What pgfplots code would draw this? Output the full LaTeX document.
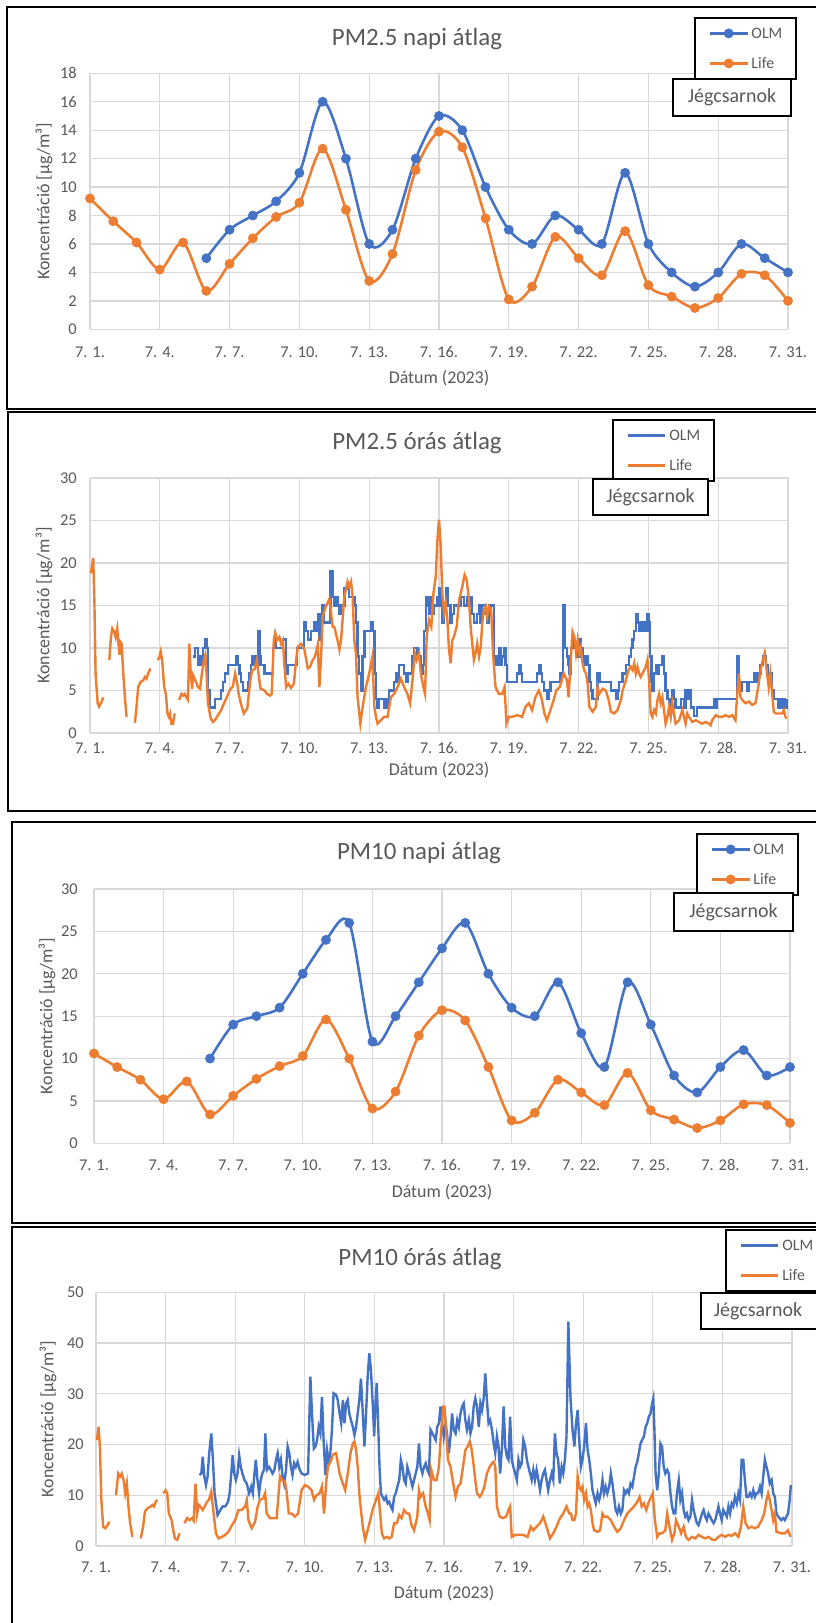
\documentclass[border=0pt]{standalone}
\usepackage{fontspec}
\setmainfont{Carlito}
\usepackage{pgfplots}
\pgfplotsset{compat=1.18}
\definecolor{olm}{HTML}{4472C4}
\definecolor{life}{HTML}{ED7D31}
\definecolor{grd}{HTML}{D9D9D9}
\definecolor{txt}{HTML}{595959}
\pgfplotsset{
  excel/.style={
    scale only axis,
    xmin=1, xmax=31, ymin=0,
    xtick={1,4,...,31},
    xticklabels={7. 1.,7. 4.,7. 7.,7. 10.,7. 13.,7. 16.,7. 19.,7. 22.,7. 25.,7. 28.,7. 31.},
    grid=major,
    major grid style={draw=grd, line width=1.3bp},
    axis line style={draw=none},
    major tick length=0pt,
    tick label style={font=\fontsize{16.5}{17}\selectfont, text=txt},
    /pgf/number format/assume math mode=true,
    xticklabel style={anchor=base},
    yticklabel style={anchor=east, inner sep=0pt},
    clip=false,
    unbounded coords=jump,
    legend cell align=left,
    legend style={draw=black, line width=1.8bp, fill=white, anchor=north west,
      font=\fontsize{16}{16}\selectfont, text=txt, inner xsep=14bp, inner ysep=10bp,
      row sep=19bp, column sep=3bp,
      nodes={inner sep=0pt, text height=11bp, text depth=0pt}},
  },
  daily/.style={legend image code/.code={\draw[mark repeat=2,mark phase=2,##1] plot coordinates {(0bp,0bp) (18.5bp,0bp) (37bp,0bp)};}},
  hourly/.style={legend image code/.code={\draw[##1] (0bp,0bp) -- (37bp,0bp);}},
}
\tikzset{
  ttl/.style={text=txt, font=\fontsize{25}{25}\selectfont},
  lab/.style={text=txt, font=\fontsize{18}{18}\selectfont},
  jeg/.style={text=txt, font=\fontsize{20}{20}\selectfont},
}
\begin{document}
\begin{tikzpicture}
\useasboundingbox (0,0) rectangle (816bp,-1623bp);
\fill[white] (0,0) rectangle (816bp,-1623bp);
% frames
\draw[line width=2bp] (7.3bp,-6.7bp) rectangle (830bp,-409bp);
\draw[line width=2bp] (8.3bp,-412bp) rectangle (830bp,-811bp);
\draw[line width=2bp] (11.5bp,-822bp) rectangle (830bp,-1223bp);
\draw[line width=2bp] (12.4bp,-1227bp) rectangle (830bp,-1640bp);

% ================= Panel 1: PM2.5 napi
\begin{axis}[excel, daily, width=698bp, height=256bp, at={(90bp,-329.3bp)}, anchor=south west,
  ymax=18, ytick={0,2,...,18},
  xticklabel style={yshift=-28.5bp}, yticklabel style={xshift=-13bp},
  legend style={at={(0.8653,1.2199)}}]
\addplot[color=olm, line width=2.6bp, smooth, mark=*, mark size=4.5bp, mark options={line width=0.8bp}] coordinates {
(6,5)(7,7)(8,8)(9,9)(10,11)(11,16)(12,12)(13,6)(14,7)(15,12)(16,15)(17,14)(18,10)(19,7)(20,6)(21,8)(22,7)(23,6)(24,11)(25,6)(26,4)(27,3)(28,4)(29,6)(30,5)(31,4)};
\addlegendentry{OLM}
\addplot[color=life, line width=2.6bp, smooth, mark=*, mark size=4.5bp, mark options={line width=0.8bp}] coordinates {
(1,9.2)(2,7.6)(3,6.1)(4,4.2)(5,6.1)(6,2.7)(7,4.6)(8,6.4)(9,7.9)(10,8.9)(11,12.7)(12,8.4)(13,3.4)(14,5.3)(15,11.2)(16,13.9)(17,12.8)(18,7.8)(19,2.1)(20,3.0)(21,6.5)(22,5.0)(23,3.8)(24,6.9)(25,3.1)(26,2.3)(27,1.5)(28,2.2)(29,3.9)(30,3.8)(31,2.0)};
\addlegendentry{Life}
\end{axis}
\node[ttl] at (417bp,-38.5bp) {PM2.5 napi átlag};
\node[lab] at (439bp,-378bp) {Dátum (2023)};
\node[lab, rotate=90] at (44bp,-201.3bp) {Koncentráció [µg/m³]};
\node[jeg, draw=black, line width=1.8bp, fill=white, minimum width=118bp, minimum height=37bp, inner sep=0pt] at (732bp,-97.5bp) {Jégcsarnok};

% ================= Panel 2: PM2.5 órás
\begin{axis}[excel, hourly, width=698bp, height=255bp, at={(90bp,-733bp)}, anchor=south west,
  ymax=30, ytick={0,5,...,30},
  xticklabel style={yshift=-20bp}, yticklabel style={xshift=-13bp},
  legend style={at={(0.7479,1.2314)}}]
\addplot[color=olm, line width=2.4bp, const plot] coordinates {
(5.43,9)(5.50,10)(5.57,10)(5.64,8)(5.71,9)(5.79,8)(5.86,10)(5.93,11)(6.0,10)(6.07,5)(6.14,3)(6.29,3)(6.36,4)(6.57,4)(6.64,5)(6.71,6)(6.79,7)(6.93,8)(7.21,8)(7.29,9)(7.36,8)(7.43,7)(7.50,6)(7.57,5)(7.71,5)(7.79,6)(7.86,7)(7.93,8)(7.97,9)(8.04,8)(8.14,9)(8.19,8)(8.24,12)(8.30,9)(8.36,8)(8.50,7)(8.79,7)(8.86,10)(8.93,11)(9.0,10)(9.21,10)(9.29,11)(9.43,7)(9.50,8)(9.79,8)(9.90,10)(10.14,10)(10.21,13)(10.29,12)(10.36,11)(10.50,12)(10.64,13)(10.71,12)(10.79,14)(10.86,11)(10.96,15)(11.04,13)(11.33,19)(11.43,16)(11.50,15)(11.57,16)(11.64,15)(11.72,14)(11.79,15)(11.93,17)(12.07,17)(12.14,16)(12.29,16)(12.36,15)(12.43,13)(12.50,9)(12.57,7)(12.64,5)(12.72,9)(12.79,12)(12.86,12)(13.0,12)(13.07,13)(13.14,12)(13.22,7)(13.29,4)(13.36,3)(13.43,4)(13.57,4)(13.64,3)(13.72,4)(13.79,3)(13.86,5)(14.0,5)(14.07,6)(14.14,7)(14.22,6)(14.29,8)(14.43,8)(14.50,7)(14.57,6)(14.64,7)(14.79,7)(14.86,9)(14.93,10)(15.0,10)(15.07,9)(15.22,7)(15.29,8)(15.36,12)(15.43,16)(15.50,15)(15.57,14)(15.64,16)(15.72,14)(15.79,15)(15.86,15)(15.93,16)(16.0,17)(16.07,15)(16.14,13)(16.22,15)(16.29,17)(16.36,15)(16.50,13)(16.57,14)(16.64,15)(16.79,15)(16.93,16)(17.07,15)(17.22,16)(17.29,15)(17.36,16)(17.43,14)(17.50,13)(17.64,14)(17.72,15)(17.79,13)(17.86,15)(18.0,14)(18.07,13)(18.14,14)(18.22,15)(18.29,15)(18.36,8)(18.43,9)(18.50,8)(18.57,10)(18.64,8)(18.72,9)(18.79,10)(18.86,8)(18.93,6)(19.29,6)(19.36,7)(19.43,8)(19.50,7)(19.57,6)(20.22,7)(20.32,8)(20.39,7)(20.43,6)(20.50,5)(20.64,4)(20.72,5)(20.79,6)(21.22,7)(21.33,15)(21.40,10)(21.50,9)(21.57,8)(21.60,7)(21.67,10)(21.74,11)(21.82,10)(21.96,9)(22.03,11)(22.10,10)(22.17,9)(22.24,8)(22.32,9)(22.39,8)(22.46,6)(22.53,5)(22.60,4)(22.74,4)(22.82,7)(22.89,6)(23.32,6)(23.39,5)(23.60,4)(23.67,5)(23.74,6)(23.89,7)(24.03,8)(24.17,9)(24.24,10)(24.32,11)(24.39,12)(24.46,14)(24.53,13)(24.60,12)(24.67,13)(24.74,12)(24.82,13)(24.89,12)(24.96,14)(25.03,13)(25.07,9)(25.13,6)(25.17,5)(25.24,7)(25.32,8)(25.39,7)(25.46,8)(25.53,8)(25.60,9)(25.67,7)(25.74,5)(25.82,4)(25.89,3)(25.96,4)(26.03,5)(26.10,4)(26.17,3)(26.39,4)(26.53,3)(26.60,5)(26.67,4)(26.74,5)(26.82,3)(26.96,2)(27.10,3)(27.74,3)(27.82,4)(27.89,3)(27.96,4)(28.74,4)(28.82,9)(28.89,6)(28.96,5)(29.03,6)(29.24,5)(29.32,6)(29.53,7)(29.60,6)(29.74,7)(29.82,8)(29.92,9)(30.06,8)(30.14,6)(30.24,7)(30.32,5)(30.39,4)(30.57,3)(30.63,4)(30.72,3)(30.77,4)(30.86,3)(30.95,4)};
\addlegendentry{OLM}
\addplot[color=life, line width=2.4bp] coordinates {
(1.04,18.8)(1.14,20.6)(1.19,15.4)(1.24,7.0)(1.33,3.5)(1.39,3.1)(1.47,3.5)(1.57,4.2)(1.7,nan)
(1.83,8.6)(1.90,11.3)(1.96,12.3)(2.04,11.9)(2.10,11.3)(2.17,12.3)(2.21,10.9)(2.27,9.2)(2.31,10.7)(2.36,10.5)(2.43,7.0)(2.50,4.2)(2.57,1.9)(2.75,nan)
(2.93,1.2)(3.0,3.1)(3.07,5.4)(3.17,6.0)(3.29,6.2)(3.36,6.6)(3.43,6.4)(3.50,7.0)(3.60,7.6)(3.75,nan)
(3.90,8.6)(3.97,8.8)(4.04,9.6)(4.10,8.6)(4.19,5.4)(4.26,4.6)(4.33,2.3)(4.39,1.9)(4.44,2.3)(4.50,1.1)(4.57,1.1)(4.64,2.3)(4.73,nan)
(4.83,3.9)(4.93,4.6)(5.0,4.4)(5.07,4.6)(5.14,4.2)(5.21,3.9)(5.27,10.5)(5.33,7.0)(5.39,5.2)(5.43,6.8)(5.50,6.4)(5.64,5.4)(5.73,5.2)(5.81,7.0)(5.90,8.6)(5.96,9.2)(6.01,7.0)(6.07,3.5)(6.19,1.7)(6.29,1.3)(6.39,1.6)(6.50,2.1)(6.64,2.7)(6.76,3.5)(6.86,4.1)(7.0,5.0)(7.14,5.5)(7.24,7.0)(7.33,5.8)(7.39,4.6)(7.50,3.3)(7.61,2.3)(7.76,2.9)(7.89,6.2)(7.97,7.4)(8.07,7.5)(8.17,8.6)(8.24,7.0)(8.33,5.2)(8.50,5.0)(8.61,4.6)(8.74,4.4)(8.81,4.6)(8.90,10.9)(8.96,11.8)(9.04,10.9)(9.14,11.3)(9.21,10.5)(9.29,10.9)(9.36,7.8)(9.43,5.4)(9.53,5.8)(9.64,5.3)(9.76,5.8)(9.86,8.6)(9.93,10.1)(10.07,10.5)(10.21,9.9)(10.36,7.6)(10.46,7.8)(10.57,8.6)(10.64,8.8)(10.71,9.4)(10.79,10.4)(10.86,5.4)(10.93,8.9)(11.0,13.7)(11.14,14.9)(11.29,15.8)(11.43,12.5)(11.50,12.5)(11.64,10.9)(11.72,9.8)(11.79,10.9)(11.93,16.0)(12.07,17.8)(12.14,17.2)(12.22,17.8)(12.29,16.0)(12.36,10.9)(12.43,9.4)(12.50,4.2)(12.62,1.1)(12.72,3.1)(12.86,5.4)(13.0,7.0)(13.14,9.0)(13.22,3.1)(13.29,1.9)(13.36,1.1)(13.50,1.5)(13.64,1.9)(13.79,1.9)(13.86,3.1)(13.93,4.2)(14.07,4.6)(14.22,5.4)(14.36,6.4)(14.50,5.4)(14.64,4.6)(14.76,3.5)(14.86,6.2)(14.96,9.4)(15.04,8.6)(15.14,9.4)(15.22,7.0)(15.33,5.4)(15.40,4.6)(15.47,11.3)(15.57,13.3)(15.67,12.5)(15.76,16.4)(15.86,18.4)(15.93,22.7)(16.0,25.1)(16.07,22.3)(16.14,16.4)(16.22,14.1)(16.29,15.3)(16.36,13.3)(16.43,9.8)(16.50,8.2)(16.57,10.9)(16.64,11.3)(16.76,12.5)(16.86,15.6)(16.93,16.4)(17.0,17.2)(17.10,18.6)(17.19,18.0)(17.29,15.6)(17.36,12.5)(17.43,10.5)(17.50,8.6)(17.57,9.4)(17.64,10.5)(17.72,9.0)(17.79,10.1)(17.86,12.9)(17.93,14.5)(18.0,14.9)(18.07,13.7)(18.14,14.9)(18.24,14.5)(18.33,9.0)(18.43,5.4)(18.57,4.6)(18.72,4.6)(18.82,5.4)(18.90,1.1)(19.0,1.9)(19.14,1.9)(19.36,2.1)(19.57,1.9)(19.72,3.1)(19.86,3.5)(20.0,2.7)(20.14,4.2)(20.29,5.0)(20.40,4.2)(20.53,2.3)(20.64,1.5)(20.79,2.7)(20.93,3.9)(21.04,5.0)(21.19,5.4)(21.36,7.0)(21.50,6.2)(21.57,4.2)(21.67,8.9)(21.74,11.9)(21.82,11.3)(21.89,9.4)(21.96,10.9)(22.03,9.4)(22.10,10.1)(22.17,8.2)(22.24,7.4)(22.32,7.0)(22.39,5.8)(22.46,3.1)(22.60,2.5)(22.74,3.1)(22.82,5.4)(22.89,4.6)(23.03,5.2)(23.17,5.0)(23.29,3.9)(23.39,2.5)(23.53,2.3)(23.67,2.7)(23.82,3.9)(23.89,5.0)(24.03,6.2)(24.14,7.4)(24.24,7.8)(24.32,7.4)(24.39,8.2)(24.46,7.0)(24.53,7.8)(24.60,7.0)(24.67,6.6)(24.74,7.0)(24.82,7.4)(24.89,7.8)(24.96,8.6)(25.03,6.2)(25.10,2.3)(25.17,1.9)(25.24,2.7)(25.32,2.3)(25.39,3.9)(25.46,4.6)(25.53,3.5)(25.60,4.2)(25.67,2.7)(25.74,1.1)(25.82,1.9)(25.89,3.1)(25.96,1.9)(26.03,3.5)(26.10,2.3)(26.17,1.1)(26.32,1.5)(26.46,2.7)(26.53,1.9)(26.60,1.1)(26.67,2.3)(26.74,1.9)(26.89,1.3)(27.03,1.5)(27.17,1.3)(27.32,1.1)(27.46,1.3)(27.60,1.1)(27.67,0.9)(27.74,1.5)(27.89,2.1)(28.03,1.9)(28.17,1.9)(28.32,2.1)(28.46,1.9)(28.60,2.1)(28.74,1.5)(28.82,4.6)(28.89,7.0)(28.96,4.2)(29.03,3.9)(29.17,3.5)(29.32,3.7)(29.46,3.3)(29.60,3.5)(29.72,5.4)(29.82,7.4)(29.92,8.6)(30.0,9.4)(30.10,7.0)(30.17,5.4)(30.24,7.0)(30.32,4.6)(30.39,2.5)(30.46,2.3)(30.60,2.3)(30.74,2.3)(30.82,2.7)(30.89,1.9)(30.95,1.7)};
\addlegendentry{Life}
\end{axis}
\node[ttl] at (417bp,-443bp) {PM2.5 órás átlag};
\node[lab] at (439bp,-770bp) {Dátum (2023)};
\node[lab, rotate=90] at (44bp,-605.5bp) {Koncentráció [µg/m³]};
\node[jeg, draw=black, line width=1.8bp, fill=white, minimum width=115bp, minimum height=36bp, inner sep=0pt] at (650.5bp,-497bp) {Jégcsarnok};

% ================= Panel 3: PM10 napi
\begin{axis}[excel, daily, width=696bp, height=254.3bp, at={(94bp,-1143.3bp)}, anchor=south west,
  ymax=30, ytick={0,5,...,30},
  xticklabel style={yshift=-26.7bp}, yticklabel style={xshift=-16bp},
  legend style={at={(0.8649,1.2202)}}]
\addplot[color=olm, line width=2.6bp, smooth, mark=*, mark size=4.5bp, mark options={line width=0.8bp}] coordinates {
(6,10)(7,14)(8,15)(9,16)(10,20)(11,24)(12,26)(13,12)(14,15)(15,19)(16,23)(17,26)(18,20)(19,16)(20,15)(21,19)(22,13)(23,9)(24,19)(25,14)(26,8)(27,6)(28,9)(29,11)(30,8)(31,9)};
\addlegendentry{OLM}
\addplot[color=life, line width=2.6bp, smooth, mark=*, mark size=4.5bp, mark options={line width=0.8bp}] coordinates {
(1,10.6)(2,9.0)(3,7.5)(4,5.2)(5,7.3)(6,3.4)(7,5.6)(8,7.6)(9,9.1)(10,10.3)(11,14.6)(12,10.0)(13,4.1)(14,6.1)(15,12.7)(16,15.7)(17,14.5)(18,9.0)(19,2.7)(20,3.6)(21,7.5)(22,6.0)(23,4.5)(24,8.3)(25,3.9)(26,2.8)(27,1.8)(28,2.7)(29,4.6)(30,4.5)(31,2.4)};
\addlegendentry{Life}
\end{axis}
\node[ttl] at (419bp,-853bp) {PM10 napi átlag};
\node[lab] at (442bp,-1192bp) {Dátum (2023)};
\node[lab, rotate=90] at (47bp,-1016bp) {Koncentráció [µg/m³]};
\node[jeg, draw=black, line width=1.8bp, fill=white, minimum width=119bp, minimum height=38bp, inner sep=0pt] at (733.5bp,-912bp) {Jégcsarnok};

% ================= Panel 4: PM10 órás
\begin{axis}[excel, hourly, width=696bp, height=253.7bp, at={(96bp,-1546bp)}, anchor=south west,
  ymax=50, ytick={0,10,...,50},
  xticklabel style={yshift=-26bp}, yticklabel style={xshift=-12bp},
  legend style={at={(0.9037,1.2495)}}]
\addplot[color=olm, line width=2.4bp] coordinates {
(5.46,14.0)(5.54,14.3)(5.60,17.6)(5.67,13.7)(5.74,12.0)(5.81,13.7)(5.88,18.3)(5.97,22.2)(6.04,17.0)(6.11,10.4)(6.19,7.8)(6.24,6.1)(6.36,7.1)(6.46,7.8)(6.57,7.8)(6.69,8.7)(6.76,10.4)(6.83,14.3)(6.89,17.9)(6.96,14.3)(7.03,13.0)(7.10,14.3)(7.17,17.9)(7.24,15.6)(7.31,14.3)(7.40,13.0)(7.50,12.3)(7.60,10.4)(7.69,11.7)(7.76,10.4)(7.83,14.3)(7.89,17.0)(7.96,13.0)(8.03,10.4)(8.10,13.0)(8.17,14.3)(8.24,15.0)(8.30,22.2)(8.37,15.0)(8.46,15.6)(8.53,15.0)(8.61,14.3)(8.69,15.0)(8.76,17.0)(8.83,18.3)(8.90,15.6)(8.97,17.0)(9.04,13.7)(9.11,12.3)(9.19,15.0)(9.26,19.6)(9.33,18.3)(9.40,15.6)(9.47,14.0)(9.54,16.3)(9.61,15.6)(9.69,16.6)(9.76,15.3)(9.86,14.3)(10.0,14.0)(10.14,14.3)(10.24,33.4)(10.31,26.1)(10.39,19.2)(10.46,19.6)(10.53,20.9)(10.60,23.5)(10.67,22.2)(10.74,29.4)(10.81,20.9)(10.89,14.0)(10.96,18.9)(11.03,16.6)(11.10,18.3)(11.17,22.8)(11.24,30.1)(11.35,29.8)(11.42,28.8)(11.50,26.1)(11.57,24.2)(11.64,28.8)(11.71,24.2)(11.78,28.1)(11.85,28.8)(11.92,26.1)(11.99,24.8)(12.07,23.5)(12.14,21.9)(12.21,23.5)(12.28,26.1)(12.35,28.8)(12.42,33.0)(12.50,26.1)(12.57,19.6)(12.64,26.1)(12.71,33.4)(12.78,38.0)(12.85,34.7)(12.92,28.8)(12.99,21.6)(13.04,27.5)(13.10,32.1)(13.17,22.9)(13.22,15.6)(13.28,10.4)(13.35,9.7)(13.42,9.1)(13.50,9.7)(13.57,8.4)(13.64,8.7)(13.71,7.8)(13.78,7.1)(13.85,9.7)(13.92,10.4)(13.99,11.7)(14.07,13.0)(14.14,17.0)(14.21,15.6)(14.28,13.0)(14.35,12.3)(14.42,15.6)(14.50,14.3)(14.57,13.0)(14.64,11.7)(14.71,13.0)(14.78,14.3)(14.85,15.6)(14.92,20.2)(14.99,15.6)(15.07,14.3)(15.14,15.6)(15.21,16.3)(15.28,15.0)(15.35,14.3)(15.42,22.9)(15.50,22.2)(15.57,21.6)(15.64,20.9)(15.71,23.5)(15.78,24.2)(15.85,27.5)(15.92,24.2)(15.99,21.6)(16.07,24.2)(16.14,21.6)(16.21,18.3)(16.28,21.6)(16.35,26.1)(16.42,22.9)(16.50,22.2)(16.57,24.8)(16.64,23.5)(16.71,26.1)(16.78,27.5)(16.85,28.1)(16.92,24.8)(16.99,22.9)(17.07,24.8)(17.14,22.2)(17.21,23.5)(17.28,27.5)(17.35,29.1)(17.42,27.5)(17.50,23.5)(17.57,28.1)(17.64,26.8)(17.71,29.1)(17.78,34.0)(17.85,28.8)(17.92,24.2)(17.99,24.8)(18.07,22.9)(18.14,20.2)(18.21,18.3)(18.28,21.6)(18.35,19.6)(18.42,14.3)(18.50,19.6)(18.57,27.5)(18.64,19.6)(18.71,17.6)(18.78,17.0)(18.85,25.5)(18.92,17.0)(18.99,15.6)(19.07,14.3)(19.14,13.0)(19.21,17.0)(19.28,15.6)(19.35,16.3)(19.42,20.9)(19.50,19.6)(19.57,17.0)(19.64,15.6)(19.71,14.3)(19.78,13.0)(19.85,15.0)(19.92,13.0)(19.99,15.0)(20.07,13.0)(20.14,11.0)(20.21,13.0)(20.28,14.3)(20.35,15.0)(20.42,13.0)(20.49,11.0)(20.57,13.0)(20.64,14.3)(20.71,13.0)(20.78,22.2)(20.85,18.3)(20.92,17.0)(20.99,12.3)(21.07,15.6)(21.14,14.3)(21.21,17.0)(21.28,21.6)(21.36,44.2)(21.45,29.4)(21.54,22.9)(21.62,19.6)(21.69,24.2)(21.76,26.8)(21.83,20.9)(21.90,15.6)(21.97,17.0)(22.04,19.6)(22.12,24.2)(22.19,18.9)(22.26,17.0)(22.33,14.3)(22.40,11.0)(22.47,9.7)(22.54,8.4)(22.62,10.4)(22.69,9.1)(22.76,10.4)(22.83,13.0)(22.90,10.4)(22.97,11.7)(23.04,10.4)(23.12,11.7)(23.19,14.3)(23.26,12.3)(23.33,9.7)(23.40,7.1)(23.47,6.4)(23.54,7.8)(23.62,6.4)(23.69,7.1)(23.76,11.0)(23.83,10.4)(23.90,11.0)(23.97,10.4)(24.04,12.3)(24.12,11.7)(24.19,13.7)(24.26,15.6)(24.33,16.6)(24.40,18.3)(24.47,20.2)(24.54,20.9)(24.62,21.6)(24.69,23.5)(24.76,24.2)(24.83,25.5)(24.90,26.1)(24.97,28.1)(25.02,29.1)(25.07,22.9)(25.12,14.3)(25.19,11.0)(25.26,14.3)(25.33,20.2)(25.40,19.6)(25.47,15.6)(25.54,14.3)(25.62,15.0)(25.69,14.3)(25.76,10.4)(25.83,7.8)(25.90,6.4)(25.97,6.4)(26.04,10.4)(26.12,13.0)(26.19,9.1)(26.26,10.4)(26.33,7.1)(26.40,5.8)(26.47,6.4)(26.54,5.1)(26.62,5.8)(26.69,9.1)(26.76,7.1)(26.83,5.8)(26.90,4.5)(26.97,4.1)(27.04,5.1)(27.12,6.4)(27.19,7.1)(27.26,5.8)(27.33,5.1)(27.40,6.4)(27.47,5.8)(27.54,5.1)(27.62,4.5)(27.69,5.1)(27.76,6.4)(27.83,7.8)(27.90,6.4)(27.97,5.1)(28.04,7.1)(28.12,6.4)(28.19,5.8)(28.26,7.8)(28.33,6.4)(28.40,8.4)(28.47,7.8)(28.54,9.7)(28.62,8.4)(28.69,10.4)(28.76,9.1)(28.83,17.0)(28.90,17.0)(28.97,13.0)(29.04,9.7)(29.12,9.7)(29.19,10.4)(29.26,9.7)(29.33,11.0)(29.40,9.7)(29.47,10.4)(29.54,10.4)(29.62,11.7)(29.69,10.4)(29.76,13.7)(29.83,17.0)(29.90,15.6)(29.97,14.3)(30.04,12.3)(30.12,13.0)(30.19,10.4)(30.26,9.7)(30.33,6.4)(30.40,5.8)(30.47,5.5)(30.54,5.1)(30.62,5.5)(30.69,5.1)(30.76,5.8)(30.83,6.4)(30.90,9.1)(30.95,12.0)};
\addlegendentry{OLM}
\addplot[color=life, line width=2.4bp] coordinates {
(1.04,20.9)(1.11,23.5)(1.17,19.6)(1.23,9.1)(1.31,3.8)(1.40,3.5)(1.50,4.1)(1.57,4.8)(1.7,nan)
(1.86,10.0)(1.96,14.3)(2.04,13.7)(2.11,14.3)(2.19,13.0)(2.26,10.4)(2.33,12.3)(2.40,7.8)(2.47,4.5)(2.57,1.8)(2.75,nan)
(2.93,1.5)(3.03,3.8)(3.11,6.8)(3.21,7.4)(3.36,7.8)(3.43,8.1)(3.50,7.8)(3.57,8.7)(3.64,9.1)(3.77,nan)
(3.90,10.4)(4.0,11.0)(4.07,10.4)(4.14,6.4)(4.26,5.1)(4.33,3.1)(4.40,1.5)(4.50,1.2)(4.60,2.5)(4.70,nan)
(4.81,4.5)(4.93,5.5)(5.03,5.1)(5.14,5.5)(5.21,5.0)(5.29,12.3)(5.36,6.4)(5.43,8.1)(5.50,7.8)(5.60,7.1)(5.69,7.8)(5.78,8.7)(5.87,9.1)(5.97,10.7)(6.07,6.4)(6.17,2.5)(6.28,1.5)(6.43,1.8)(6.57,2.2)(6.71,2.8)(6.86,4.1)(7.0,5.1)(7.14,7.1)(7.28,7.1)(7.43,7.8)(7.50,9.1)(7.57,5.1)(7.71,3.5)(7.86,4.8)(7.97,7.8)(8.07,9.1)(8.21,9.4)(8.29,10.4)(8.36,6.4)(8.50,5.5)(8.64,5.5)(8.79,5.5)(8.86,9.7)(8.93,13.7)(9.03,13.0)(9.14,12.7)(9.21,11.0)(9.31,6.4)(9.43,6.4)(9.57,5.8)(9.71,6.4)(9.86,11.0)(10.0,12.0)(10.14,11.7)(10.29,11.0)(10.40,9.1)(10.50,10.0)(10.64,10.4)(10.74,11.7)(10.83,6.4)(10.93,13.0)(11.0,15.6)(11.14,17.0)(11.21,18.0)(11.35,18.3)(11.50,14.3)(11.64,12.3)(11.74,11.0)(11.85,14.3)(11.97,18.3)(12.07,20.2)(12.14,20.6)(12.21,18.9)(12.28,15.6)(12.35,10.4)(12.42,7.1)(12.50,3.8)(12.60,1.2)(12.71,3.1)(12.82,5.1)(12.92,7.1)(13.07,9.1)(13.17,10.4)(13.25,6.4)(13.32,2.5)(13.42,1.5)(13.54,1.8)(13.64,1.5)(13.74,1.8)(13.85,4.5)(13.97,4.5)(14.07,6.1)(14.17,5.5)(14.28,7.1)(14.40,6.4)(14.50,6.4)(14.60,4.1)(14.71,3.1)(14.85,5.8)(14.92,11.0)(14.99,9.7)(15.10,10.4)(15.21,7.8)(15.31,6.4)(15.38,5.1)(15.45,15.0)(15.57,13.0)(15.68,13.0)(15.78,15.6)(15.88,22.9)(15.97,27.5)(16.02,27.5)(16.11,21.6)(16.17,17.0)(16.28,15.6)(16.40,12.3)(16.50,9.7)(16.60,11.7)(16.71,12.3)(16.82,15.6)(16.92,18.9)(17.02,19.6)(17.11,20.6)(17.17,19.6)(17.25,17.0)(17.35,13.0)(17.42,10.4)(17.54,9.7)(17.64,10.4)(17.74,11.7)(17.85,14.3)(17.97,15.6)(18.07,16.3)(18.14,16.6)(18.21,15.6)(18.28,7.8)(18.40,5.8)(18.54,5.5)(18.68,5.8)(18.78,7.1)(18.85,7.8)(18.92,1.8)(19.07,2.2)(19.21,2.2)(19.42,2.2)(19.60,1.8)(19.74,3.8)(19.85,3.1)(19.99,3.8)(20.14,4.5)(20.28,5.8)(20.42,3.8)(20.57,1.5)(20.71,2.5)(20.85,3.8)(21.0,5.5)(21.14,6.4)(21.28,7.8)(21.40,6.4)(21.47,6.4)(21.54,5.1)(21.62,5.1)(21.69,6.4)(21.76,13.7)(21.83,11.7)(21.90,11.0)(21.97,11.7)(22.04,9.1)(22.12,10.4)(22.19,7.8)(22.26,8.4)(22.33,7.1)(22.40,4.5)(22.47,3.1)(22.62,2.8)(22.73,3.1)(22.83,6.4)(22.90,5.8)(23.04,5.8)(23.19,5.1)(23.33,3.8)(23.47,2.8)(23.62,3.5)(23.76,5.1)(23.90,6.4)(24.04,7.1)(24.19,7.8)(24.33,8.7)(24.43,9.7)(24.52,7.8)(24.62,8.4)(24.72,7.1)(24.83,8.7)(24.93,9.7)(25.0,10.4)(25.09,5.1)(25.19,1.8)(25.29,2.5)(25.40,2.5)(25.54,3.1)(25.62,6.4)(25.72,3.8)(25.83,1.2)(25.93,2.5)(26.0,5.1)(26.12,3.8)(26.22,2.5)(26.33,3.8)(26.43,1.8)(26.54,1.2)(26.69,1.8)(26.83,1.5)(26.97,2.2)(27.12,1.8)(27.26,1.5)(27.40,1.8)(27.54,1.3)(27.69,1.2)(27.83,1.8)(27.97,2.2)(28.12,1.8)(28.26,2.2)(28.40,2.0)(28.54,2.5)(28.69,1.8)(28.80,3.8)(28.90,7.8)(29.0,4.5)(29.12,3.5)(29.26,3.8)(29.40,3.5)(29.54,3.8)(29.69,5.1)(29.80,6.4)(29.90,9.1)(29.97,10.4)(30.04,9.1)(30.12,7.1)(30.19,5.1)(30.26,6.4)(30.33,2.8)(30.54,2.5)(30.69,2.5)(30.83,3.1)(30.94,1.8)};
\addlegendentry{Life}
\end{axis}
\node[ttl] at (420bp,-1259bp) {PM10 órás átlag};
\node[lab] at (444bp,-1593bp) {Dátum (2023)};
\node[lab, rotate=90] at (48bp,-1419bp) {Koncentráció [µg/m³]};
\draw[line width=1.8bp, fill=white] (701bp,-1293bp) rectangle (830bp,-1329bp);
\node[jeg] at (758bp,-1311bp) {Jégcsarnok};
\end{tikzpicture}
\end{document}
